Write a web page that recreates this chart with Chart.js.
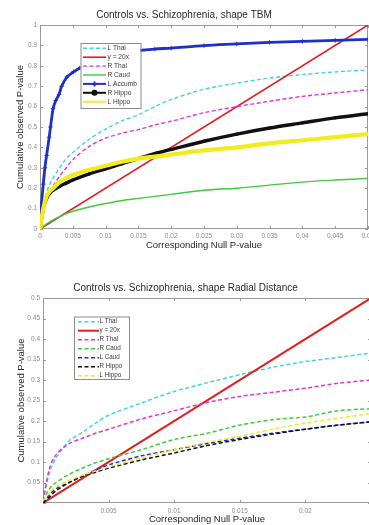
<!DOCTYPE html>
<html>
<head>
<meta charset="utf-8">
<script src="https://cdn.jsdelivr.net/npm/chart.js@4.4.1/dist/chart.umd.min.js"></script>
<style>
  html, body { margin: 0; padding: 0; background: #fff; overflow: hidden; width: 369px; height: 525px; }
  .panel { position: absolute; left: 0; width: 369px; overflow: hidden; }
  #p1 { top: 0; height: 260px; }
  #p2 { top: 260px; height: 265px; }
  canvas { display: block; }
</style>
</head>
<body>
<div class="panel" id="p1"><canvas id="c1" width="390" height="260"></canvas></div>
<div class="panel" id="p2"><canvas id="c2" width="390" height="265"></canvas></div>
<script>
// ---------- Shape TBM: cumulative observed vs. null P-value ----------
const TBM_X       = [0, 0.0005, 0.001, 0.0015, 0.002, 0.003, 0.004, 0.005, 0.0075, 0.01, 0.0125, 0.015, 0.0175, 0.02, 0.025, 0.03, 0.035, 0.04, 0.045, 0.05];
const TBM_L_THAL  = [0, 0.12, 0.18, 0.22, 0.25, 0.30, 0.345, 0.375, 0.44, 0.49, 0.53, 0.56, 0.60, 0.635, 0.685, 0.715, 0.74, 0.757, 0.77, 0.78];
const TBM_R_THAL  = [0, 0.09, 0.15, 0.185, 0.21, 0.26, 0.30, 0.34, 0.405, 0.445, 0.47, 0.487, 0.51, 0.528, 0.57, 0.60, 0.626, 0.65, 0.667, 0.683];
const TBM_R_CAUD  = [0, 0.012, 0.025, 0.035, 0.045, 0.06, 0.075, 0.087, 0.108, 0.125, 0.14, 0.15, 0.16, 0.17, 0.19, 0.20, 0.215, 0.23, 0.24, 0.248];
const TBM_R_HIPPO = [0, 0.10, 0.15, 0.175, 0.19, 0.21, 0.225, 0.24, 0.27, 0.295, 0.32, 0.345, 0.37, 0.39, 0.43, 0.465, 0.495, 0.52, 0.545, 0.565];
const TBM_L_HIPPO = [0, 0.10, 0.16, 0.185, 0.20, 0.23, 0.25, 0.265, 0.29, 0.31, 0.33, 0.345, 0.355, 0.365, 0.385, 0.40, 0.42, 0.435, 0.45, 0.465];
const TBM_ACC_X   = [0, 0.00025, 0.0005, 0.00075, 0.001, 0.0014, 0.0016, 0.002, 0.0024, 0.0029, 0.0033, 0.0041, 0.0051, 0.0061, 0.0075, 0.01, 0.0125, 0.015, 0.0175, 0.02, 0.025, 0.03, 0.035, 0.04, 0.045, 0.05];
const TBM_L_ACC   = [0, 0.13, 0.22, 0.30, 0.36, 0.45, 0.50, 0.59, 0.63, 0.66, 0.70, 0.745, 0.77, 0.79, 0.82, 0.85, 0.865, 0.875, 0.882, 0.887, 0.899, 0.907, 0.915, 0.92, 0.925, 0.93];
const TBM_REF_X   = [0, 0.05];
const TBM_REF_Y   = [0, 1];
const TBM_X_TICK_STEP = 0.005;
const TBM_Y_TICK_STEP = 0.1;

// ---------- Shape Radial Distance ----------
const RD_X       = [0, 0.0005, 0.001, 0.002, 0.003, 0.004, 0.005, 0.0075, 0.01, 0.0125, 0.015, 0.0175, 0.02, 0.0225, 0.025];
const RD_L_THAL  = [0.005, 0.075, 0.11, 0.152, 0.172, 0.195, 0.214, 0.244, 0.272, 0.293, 0.313, 0.331, 0.345, 0.355, 0.366];
const RD_R_THAL  = [0.005, 0.085, 0.118, 0.145, 0.158, 0.17, 0.18, 0.205, 0.225, 0.245, 0.26, 0.27, 0.28, 0.292, 0.30];
const RD_R_CAUD  = [0.005, 0.035, 0.05, 0.07, 0.085, 0.098, 0.108, 0.13, 0.155, 0.17, 0.19, 0.203, 0.21, 0.225, 0.23];
const RD_L_CAUD  = [0, 0.02, 0.035, 0.05, 0.065, 0.08, 0.093, 0.115, 0.13, 0.145, 0.158, 0.17, 0.18, 0.19, 0.198];
const RD_R_HIPPO = [0, 0.015, 0.03, 0.05, 0.065, 0.075, 0.085, 0.105, 0.122, 0.14, 0.155, 0.168, 0.18, 0.19, 0.198];
const RD_L_HIPPO = [0.005, 0.025, 0.04, 0.055, 0.068, 0.078, 0.088, 0.11, 0.13, 0.148, 0.163, 0.18, 0.195, 0.207, 0.218];
const RD_REF_X   = [0, 0.025];
const RD_REF_Y   = [0, 0.5];
const RD_X_TICK_STEP = 0.005;
const RD_Y_TICK_STEP = 0.05;

const pts = (xs, ys) => xs.map((x, i) => ({ x, y: ys[i] }));
const fmt = v => String(Number(v.toFixed(4)));

const FONT = "'Liberation Sans', Arial, sans-serif";
const CYAN = '#3fd6dc', RED = '#e02020', MAGENTA = '#dd33dd', GREEN = '#3ccc3c',
      BLUE = '#1f2fc8', BLACK = '#111111', YELLOW = '#f2ec1c';

// Axes box with MATLAB-style inward tick marks on all four sides
const framePlugin = {
  id: 'frame',
  beforeDatasetsDraw(chart, args, o) {
    const { ctx, chartArea: a, scales: { x, y } } = chart;
    ctx.save();
    ctx.strokeStyle = o.color;
    ctx.lineWidth = 1;
    ctx.strokeRect(a.left + 0.5, a.top + 0.5, a.right - a.left - 1, a.bottom - a.top - 1);
    ctx.beginPath();
    x.ticks.forEach(t => {
      const px = Math.round(x.getPixelForValue(t.value)) + 0.5;
      ctx.moveTo(px, a.bottom); ctx.lineTo(px, a.bottom - o.len);
      ctx.moveTo(px, a.top); ctx.lineTo(px, a.top + o.len);
    });
    y.ticks.forEach(t => {
      const py = Math.round(y.getPixelForValue(t.value)) + 0.5;
      ctx.moveTo(a.left, py); ctx.lineTo(a.left + o.len, py);
      ctx.moveTo(a.right, py); ctx.lineTo(a.right - o.len, py);
    });
    ctx.stroke();
    ctx.restore();
  }
};

// Boxed legend placed inside the plot area
const boxLegend = {
  id: 'boxLegend',
  afterDraw(chart, args, o) {
    const ctx = chart.ctx;
    ctx.save();
    ctx.fillStyle = '#fff';
    ctx.fillRect(o.left, o.top, o.width, o.height);
    ctx.strokeStyle = '#8c8c8c';
    ctx.lineWidth = 1;
    ctx.strokeRect(o.left + 0.5, o.top + 0.5, o.width, o.height);
    chart.data.datasets.forEach((ds, i) => {
      const yy = o.firstRow + i * o.rowHeight;
      ctx.save();
      ctx.strokeStyle = ds.borderColor;
      ctx.fillStyle = ds.borderColor;
      ctx.lineWidth = Math.min(ds.borderWidth, o.maxLine);
      ctx.setLineDash(ds.borderDash || []);
      ctx.beginPath();
      ctx.moveTo(o.lineStart, yy);
      ctx.lineTo(o.lineEnd, yy);
      ctx.stroke();
      ctx.setLineDash([]);
      if (ds.pointRadius > 0) {
        Chart.helpers.drawPoint(ctx, {
          pointStyle: ds.pointStyle, radius: ds.pointRadius + 0.3, borderWidth: ds.pointBorderWidth || 1, rotation: 0
        }, (o.lineStart + o.lineEnd) / 2, yy);
      }
      ctx.restore();
      ctx.font = o.font;
      ctx.textBaseline = 'middle';
      ctx.fillStyle = '#3a3a3a';
      ctx.fillText(ds.label, o.textX, yy);
    });
    ctx.restore();
  }
};

function lineSet(label, data, color, width, dash, extra) {
  return Object.assign({
    label, data, borderColor: color, backgroundColor: color, borderWidth: width,
    borderDash: dash, pointRadius: 0, tension: 0.3, fill: false
  }, extra || {});
}

function makeChart(id, cfg) {
  const n = cfg.datasets.length;
  // later series drawn on top
  cfg.datasets.forEach((d, i) => { d.order = n - 1 - i; });
  return new Chart(document.getElementById(id), {
    type: 'line',
    data: { datasets: cfg.datasets },
    plugins: [framePlugin, boxLegend],
    options: {
      responsive: false,
      animation: false,
      devicePixelRatio: 1,
      layout: { padding: { left: 0, right: cfg.padRight, top: 0, bottom: 0 } },
      plugins: {
        legend: { display: false },
        tooltip: { enabled: false },
        title: {
          display: true, text: cfg.title, color: '#2a2a2a',
          font: { family: FONT, size: 10, weight: 'normal', lineHeight: 1.2 },
          padding: { top: cfg.titleTop, bottom: cfg.titleBottom }
        },
        frame: { color: '#9a9a9a', len: 3 },
        boxLegend: cfg.legend
      },
      scales: {
        x: {
          type: 'linear', min: 0, max: cfg.xMax,
          grid: { display: false, drawTicks: false }, border: { display: false },
          ticks: {
            stepSize: cfg.xStep, autoSkip: false, maxRotation: 0, padding: cfg.xTickPad,
            color: '#8a8a8a', font: { family: FONT, size: 6.5 },
            callback: v => cfg.xHide.some(h => Math.abs(h - v) < 1e-9) ? '' : fmt(v)
          },
          title: {
            display: true, text: 'Corresponding Null P-value', color: '#2a2a2a',
            font: { family: FONT, size: 9.5 }, padding: { top: 0, bottom: cfg.xTitlePad }
          },
          afterFit: s => { s.height = cfg.xHeight; s.paddingLeft = 0; s.paddingRight = 0; }
        },
        y: {
          type: 'linear', min: 0, max: cfg.yMax,
          grid: { display: false, drawTicks: false }, border: { display: false },
          ticks: {
            stepSize: cfg.yStep, autoSkip: false, padding: 3,
            color: '#8a8a8a', font: { family: FONT, size: 6.5 },
            callback: v => cfg.yHide.some(h => Math.abs(h - v) < 1e-9) ? '' : fmt(v)
          },
          title: {
            display: true, text: 'Cumulative observed P-value', color: '#2a2a2a',
            font: { family: FONT, size: 9.5 }, padding: { top: cfg.yTitlePad, bottom: 0 }
          },
          afterFit: s => { s.width = cfg.yWidth; s.paddingTop = 0; s.paddingBottom = 0; }
        }
      }
    }
  });
}

const DASH = [4, 2.5];

makeChart('c1', {
  title: 'Controls vs. Schizophrenia, shape TBM',
  titleTop: 9, titleBottom: 4,
  padRight: 22, xMax: 0.05, yMax: 1, xStep: TBM_X_TICK_STEP, yStep: TBM_Y_TICK_STEP,
  xHide: [], yHide: [],
  xHeight: 31, xTickPad: 3, xTitlePad: 8.5,
  yWidth: 40, yTitlePad: 14.6,
  legend: {
    left: 80.5, top: 43, width: 60, height: 65, firstRow: 48.3, rowHeight: 8.9,
    lineStart: 83, lineEnd: 106, textX: 107.5, maxLine: 2, font: `6.6px ${FONT}`
  },
  datasets: [
    lineSet('L Thal', pts(TBM_X, TBM_L_THAL), CYAN, 1.4, DASH),
    lineSet('y = 20x', pts(TBM_REF_X, TBM_REF_Y), RED, 1.6, [], { tension: 0 }),
    lineSet('R Thal', pts(TBM_X, TBM_R_THAL), MAGENTA, 1.4, DASH),
    lineSet('R Caud', pts(TBM_X, TBM_R_CAUD), GREEN, 1.4, []),
    lineSet('L Accumb', pts(TBM_ACC_X, TBM_L_ACC), BLUE, 2.8, [],
      { pointRadius: 2.2, pointStyle: 'cross', pointBorderWidth: 1, pointBorderColor: BLUE }),
    lineSet('R Hippo', pts(TBM_X, TBM_R_HIPPO), BLACK, 3.4, [],
      { pointRadius: 1.7, pointStyle: 'circle', pointBorderWidth: 0, pointBackgroundColor: BLACK }),
    lineSet('L Hippo', pts(TBM_X, TBM_L_HIPPO), YELLOW, 4.2, [],
      { pointRadius: 0 })
  ]
});

makeChart('c2', {
  title: 'Controls vs. Schizophrenia, shape Radial Distance',
  titleTop: 22, titleBottom: 4,
  padRight: 19, xMax: 0.025, yMax: 0.5, xStep: RD_X_TICK_STEP, yStep: RD_Y_TICK_STEP,
  xHide: [0, 0.025], yHide: [0],
  xHeight: 22, xTickPad: 4, xTitlePad: 0,
  yWidth: 43, yTitlePad: 15.6,
  legend: {
    left: 74, top: 56.5, width: 55, height: 62.5, firstRow: 61.7, rowHeight: 9,
    lineStart: 78, lineEnd: 99, textX: 99.5, maxLine: 2, font: `6.3px ${FONT}`
  },
  datasets: [
    lineSet('L Thal', pts(RD_X, RD_L_THAL), CYAN, 1.5, DASH),
    lineSet('y = 20x', pts(RD_REF_X, RD_REF_Y), RED, 2, [], { tension: 0 }),
    lineSet('R Thal', pts(RD_X, RD_R_THAL), MAGENTA, 1.5, DASH),
    lineSet('R Caud', pts(RD_X, RD_R_CAUD), GREEN, 1.5, DASH),
    lineSet('L Caud', pts(RD_X, RD_L_CAUD), BLUE, 1.5, DASH),
    lineSet('R Hippo', pts(RD_X, RD_R_HIPPO), BLACK, 1.5, DASH),
    lineSet('L Hippo', pts(RD_X, RD_L_HIPPO), YELLOW, 1.5, DASH)
  ]
});
</script>
</body>
</html>
